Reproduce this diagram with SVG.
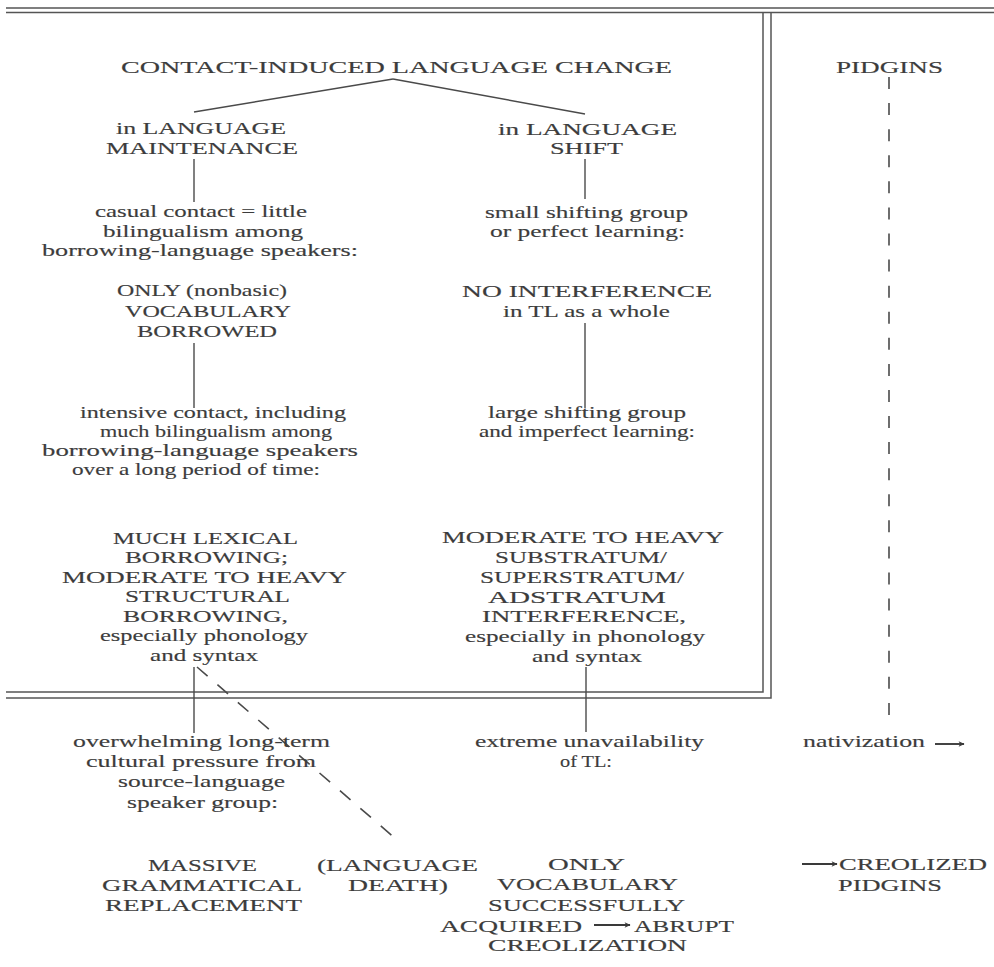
<svg xmlns="http://www.w3.org/2000/svg" width="994" height="967" viewBox="0 0 994 967">
<defs>
<style>
text{font-family:"Liberation Serif","Times New Roman",serif;font-size:16.8px;fill:#3c3c3c;stroke:#3c3c3c;stroke-width:0.15}
.ln{stroke:#4a4a4a;stroke-width:1.4;fill:none}
.ar{stroke:#3a3a3a;stroke-width:1.9;fill:none}
.fr{stroke:#555;stroke-width:1.5;fill:none}
.dash{stroke:#4a4a4a;stroke-width:1.6;fill:none}
</style>
<marker id="ah" viewBox="0 0 10 10" refX="9" refY="5" markerWidth="9" markerHeight="6" orient="auto" markerUnits="userSpaceOnUse">
<path d="M0,0.5 L10,5 L0,9.5 L2.5,5 Z" fill="#3a3a3a"/>
</marker>
</defs>
<rect width="994" height="967" fill="#fff"/>

<g id="frame">
<line class="fr" x1="6" y1="8" x2="994" y2="8"/>
<line class="fr" x1="6" y1="12.5" x2="994" y2="12.5"/>
<path class="fr" d="M6,692 H763 V12.5"/>
<path class="fr" d="M6,698 H771 V12.5"/>
</g>

<g id="connectors">
<line class="ln" x1="393" y1="79" x2="194" y2="112"/>
<line class="ln" x1="393" y1="79" x2="585" y2="114"/>
<line class="ln" x1="194" y1="159" x2="194" y2="202"/>
<line class="ln" x1="585" y1="159" x2="585" y2="199"/>
<line class="ln" x1="194" y1="343" x2="194" y2="408"/>
<line class="ln" x1="585" y1="323" x2="585" y2="408"/>
<line class="ln" x1="194" y1="667" x2="194" y2="733"/>
<line class="ln" x1="586" y1="667" x2="586" y2="732"/>
<line class="dash" x1="889" y1="77" x2="889" y2="715" stroke-dasharray="12 14.08"/>
<line class="dash" x1="197" y1="667" x2="397" y2="840" stroke-dasharray="14 13"/>
<line class="ar" x1="594" y1="925" x2="630" y2="925" marker-end="url(#ah)"/>
<line class="ar" x1="935" y1="744" x2="964" y2="744" marker-end="url(#ah)"/>
<line class="ar" x1="802" y1="864" x2="837" y2="864" marker-end="url(#ah)"/>
</g>

<g id="root">
<text x="121" y="73" textLength="551" lengthAdjust="spacingAndGlyphs">CONTACT-INDUCED LANGUAGE CHANGE</text>
</g>
<g id="pidgins">
<text x="836" y="73" textLength="107" lengthAdjust="spacingAndGlyphs">PIDGINS</text>
</g>

<g id="maintenance">
<text x="116" y="134" textLength="170" lengthAdjust="spacingAndGlyphs">in LANGUAGE</text>
<text x="106" y="154" textLength="192" lengthAdjust="spacingAndGlyphs">MAINTENANCE</text>
</g>
<g id="shift">
<text x="498" y="135" textLength="179" lengthAdjust="spacingAndGlyphs">in LANGUAGE</text>
<text x="550" y="154" textLength="73" lengthAdjust="spacingAndGlyphs">SHIFT</text>
</g>

<g id="casual-contact">
<text x="95" y="217" textLength="212" lengthAdjust="spacingAndGlyphs">casual contact = little</text>
<text x="103" y="237" textLength="200" lengthAdjust="spacingAndGlyphs">bilingualism among</text>
<text x="42" y="256" textLength="316" lengthAdjust="spacingAndGlyphs">borrowing-language speakers:</text>
</g>
<g id="small-group">
<text x="485" y="218" textLength="203" lengthAdjust="spacingAndGlyphs">small shifting group</text>
<text x="490" y="237" textLength="195" lengthAdjust="spacingAndGlyphs">or perfect learning:</text>
</g>

<g id="vocab-borrowed">
<text x="117" y="296" textLength="170" lengthAdjust="spacingAndGlyphs">ONLY (nonbasic)</text>
<text x="125" y="317" textLength="166" lengthAdjust="spacingAndGlyphs">VOCABULARY</text>
<text x="137" y="337" textLength="140" lengthAdjust="spacingAndGlyphs">BORROWED</text>
</g>
<g id="no-interference">
<text x="462" y="297" textLength="250" lengthAdjust="spacingAndGlyphs">NO INTERFERENCE</text>
<text x="503" y="317" textLength="167" lengthAdjust="spacingAndGlyphs">in TL as a whole</text>
</g>

<g id="intensive-contact">
<text x="80" y="418" textLength="266" lengthAdjust="spacingAndGlyphs">intensive contact, including</text>
<text x="100" y="437" textLength="232" lengthAdjust="spacingAndGlyphs">much bilingualism among</text>
<text x="42" y="456" textLength="316" lengthAdjust="spacingAndGlyphs">borrowing-language speakers</text>
<text x="72" y="475" textLength="248" lengthAdjust="spacingAndGlyphs">over a long period of time:</text>
</g>
<g id="large-group">
<text x="488" y="418" textLength="198" lengthAdjust="spacingAndGlyphs">large shifting group</text>
<text x="479" y="437" textLength="216" lengthAdjust="spacingAndGlyphs">and imperfect learning:</text>
</g>

<g id="structural-borrowing">
<text x="113" y="544" textLength="185" lengthAdjust="spacingAndGlyphs">MUCH LEXICAL</text>
<text x="125" y="563" textLength="163" lengthAdjust="spacingAndGlyphs">BORROWING;</text>
<text x="62" y="583" textLength="285" lengthAdjust="spacingAndGlyphs">MODERATE TO HEAVY</text>
<text x="125" y="602" textLength="165" lengthAdjust="spacingAndGlyphs">STRUCTURAL</text>
<text x="123" y="622" textLength="165" lengthAdjust="spacingAndGlyphs">BORROWING,</text>
<text x="100" y="641" textLength="208" lengthAdjust="spacingAndGlyphs">especially phonology</text>
<text x="150" y="661" textLength="108" lengthAdjust="spacingAndGlyphs">and syntax</text>
</g>
<g id="substratum-interference">
<text x="442" y="543" textLength="282" lengthAdjust="spacingAndGlyphs">MODERATE TO HEAVY</text>
<text x="495" y="563" textLength="172" lengthAdjust="spacingAndGlyphs">SUBSTRATUM/</text>
<text x="480" y="583" textLength="204" lengthAdjust="spacingAndGlyphs">SUPERSTRATUM/</text>
<text x="488" y="603" textLength="178" lengthAdjust="spacingAndGlyphs">ADSTRATUM</text>
<text x="482" y="622" textLength="204" lengthAdjust="spacingAndGlyphs">INTERFERENCE,</text>
<text x="465" y="642" textLength="240" lengthAdjust="spacingAndGlyphs">especially in phonology</text>
<text x="532" y="662" textLength="110" lengthAdjust="spacingAndGlyphs">and syntax</text>
</g>

<g id="overwhelming-pressure">
<text x="73" y="747" textLength="257" lengthAdjust="spacingAndGlyphs">overwhelming long-term</text>
<text x="86" y="767" textLength="230" lengthAdjust="spacingAndGlyphs">cultural pressure from</text>
<text x="118" y="787" textLength="167" lengthAdjust="spacingAndGlyphs">source-language</text>
<text x="127" y="808" textLength="151" lengthAdjust="spacingAndGlyphs">speaker group:</text>
</g>
<g id="extreme-unavailability">
<text x="475" y="747" textLength="229" lengthAdjust="spacingAndGlyphs">extreme unavailability</text>
<text x="560" y="767" textLength="52" lengthAdjust="spacingAndGlyphs">of TL:</text>
</g>
<g id="nativization">
<text x="803" y="747" textLength="122" lengthAdjust="spacingAndGlyphs">nativization</text>
</g>

<g id="grammatical-replacement">
<text x="148" y="871" textLength="109" lengthAdjust="spacingAndGlyphs">MASSIVE</text>
<text x="102" y="891" textLength="200" lengthAdjust="spacingAndGlyphs">GRAMMATICAL</text>
<text x="105" y="911" textLength="197" lengthAdjust="spacingAndGlyphs">REPLACEMENT</text>
</g>
<g id="language-death">
<text x="317" y="871" textLength="161" lengthAdjust="spacingAndGlyphs">(LANGUAGE</text>
<text x="348" y="891" textLength="100" lengthAdjust="spacingAndGlyphs">DEATH)</text>
</g>
<g id="abrupt-creolization">
<text x="548" y="870" textLength="77" lengthAdjust="spacingAndGlyphs">ONLY</text>
<text x="497" y="890" textLength="181" lengthAdjust="spacingAndGlyphs">VOCABULARY</text>
<text x="488" y="911" textLength="197" lengthAdjust="spacingAndGlyphs">SUCCESSFULLY</text>
<text x="440" y="932" textLength="142" lengthAdjust="spacingAndGlyphs">ACQUIRED</text>
<text x="634" y="932" textLength="100" lengthAdjust="spacingAndGlyphs">ABRUPT</text>
<text x="488" y="951" textLength="199" lengthAdjust="spacingAndGlyphs">CREOLIZATION</text>
</g>
<g id="creolized-pidgins">
<text x="839" y="870" textLength="148" lengthAdjust="spacingAndGlyphs">CREOLIZED</text>
<text x="838" y="891" textLength="104" lengthAdjust="spacingAndGlyphs">PIDGINS</text>
</g>
</svg>
